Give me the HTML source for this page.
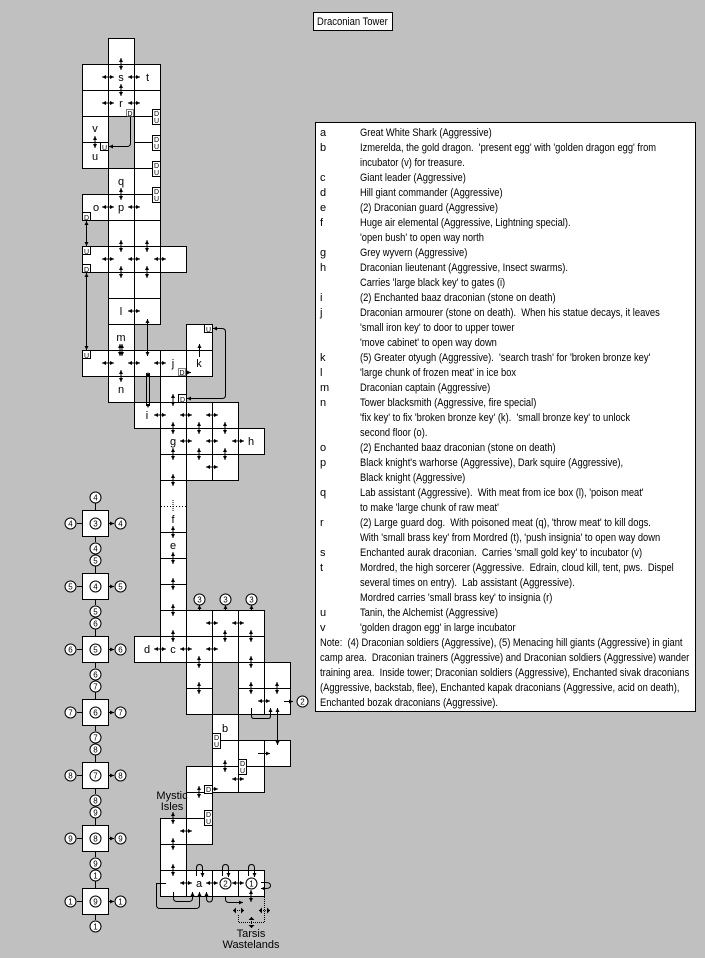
<!DOCTYPE html>
<html><head><meta charset="utf-8"><style>
html,body{margin:0;padding:0;background:#c0c0c0;}
svg{display:block;}
text{font-family:"Liberation Sans",sans-serif;}
</style></head><body>
<svg width="705" height="958" viewBox="0 0 705 958" xmlns="http://www.w3.org/2000/svg">
<defs>
<marker id="a" viewBox="0 0 6 6" refX="6" refY="3" markerWidth="4" markerHeight="4" markerUnits="userSpaceOnUse" orient="auto-start-reverse"><path d="M0,0 L6,3 L0,6z" fill="#000"/></marker>
<g id="h"><line x1="-6" y1="0" x2="6" y2="0" stroke="#000" marker-start="url(#a)" marker-end="url(#a)"/></g>
<g id="v"><line x1="0" y1="-6" x2="0" y2="6" stroke="#000" marker-start="url(#a)" marker-end="url(#a)"/></g>
</defs>
<rect width="705" height="958" fill="#c0c0c0"/>

<rect x="313.5" y="12.5" width="79" height="18" fill="#fff" stroke="#000"/>
<text x="317" y="25" font-size="11" transform="translate(317,0) scale(0.86,1) translate(-317,0)">Draconian Tower</text>

<g fill="#fff" stroke="#000">
<rect x="108.5" y="38.5" width="26" height="26"/>
<rect x="82.5" y="64.5" width="26" height="26"/><rect x="108.5" y="64.5" width="26" height="26"/><rect x="134.5" y="64.5" width="26" height="26"/>
<rect x="82.5" y="90.5" width="26" height="26"/><rect x="108.5" y="90.5" width="26" height="26"/><rect x="134.5" y="90.5" width="26" height="26"/>
<rect x="82.5" y="116.5" width="26" height="26"/><rect x="134.5" y="116.5" width="26" height="26"/>
<rect x="82.5" y="142.5" width="26" height="26"/><rect x="134.5" y="142.5" width="26" height="26"/>
<rect x="108.5" y="168.5" width="26" height="26"/><rect x="134.5" y="168.5" width="26" height="26"/>
<rect x="82.5" y="194.5" width="26" height="26"/><rect x="108.5" y="194.5" width="26" height="26"/><rect x="134.5" y="194.5" width="26" height="26"/>
<rect x="108.5" y="220.5" width="26" height="26"/><rect x="134.5" y="220.5" width="26" height="26"/>
<rect x="82.5" y="246.5" width="26" height="26"/><rect x="108.5" y="246.5" width="26" height="26"/><rect x="134.5" y="246.5" width="26" height="26"/><rect x="160.5" y="246.5" width="26" height="26"/>
<rect x="108.5" y="272.5" width="26" height="26"/><rect x="134.5" y="272.5" width="26" height="26"/>
<rect x="108.5" y="298.5" width="26" height="26"/><rect x="134.5" y="298.5" width="26" height="26"/>
<rect x="108.5" y="324.5" width="26" height="26"/><rect x="186.5" y="324.5" width="26" height="26"/>
<rect x="82.5" y="350.5" width="26" height="26"/><rect x="108.5" y="350.5" width="26" height="26"/><rect x="134.5" y="350.5" width="26" height="26"/><rect x="160.5" y="350.5" width="26" height="26"/><rect x="186.5" y="350.5" width="26" height="26"/>
<rect x="108.5" y="376.5" width="26" height="26"/><rect x="160.5" y="376.5" width="26" height="26"/>
<rect x="134.5" y="402.5" width="26" height="26"/><rect x="160.5" y="402.5" width="26" height="26"/><rect x="186.5" y="402.5" width="26" height="26"/><rect x="212.5" y="402.5" width="26" height="26"/>
<rect x="160.5" y="428.5" width="26" height="26"/><rect x="186.5" y="428.5" width="26" height="26"/><rect x="212.5" y="428.5" width="26" height="26"/><rect x="238.5" y="428.5" width="26" height="26"/>
<rect x="160.5" y="454.5" width="26" height="26"/><rect x="186.5" y="454.5" width="26" height="26"/><rect x="212.5" y="454.5" width="26" height="26"/>
<rect x="160.5" y="480.5" width="26" height="26"/>
<rect x="160.5" y="506.5" width="26" height="26"/>
<rect x="160.5" y="532.5" width="26" height="26"/>
<rect x="160.5" y="558.5" width="26" height="26"/>
<rect x="160.5" y="584.5" width="26" height="26"/>
<rect x="160.5" y="610.5" width="26" height="26"/><rect x="186.5" y="610.5" width="26" height="26"/><rect x="212.5" y="610.5" width="26" height="26"/><rect x="238.5" y="610.5" width="26" height="26"/>
<rect x="134.5" y="636.5" width="26" height="26"/><rect x="160.5" y="636.5" width="26" height="26"/><rect x="186.5" y="636.5" width="26" height="26"/><rect x="212.5" y="636.5" width="26" height="26"/><rect x="238.5" y="636.5" width="26" height="26"/>
<rect x="186.5" y="662.5" width="26" height="26"/><rect x="238.5" y="662.5" width="26" height="26"/><rect x="264.5" y="662.5" width="26" height="26"/>
<rect x="186.5" y="688.5" width="26" height="26"/><rect x="238.5" y="688.5" width="26" height="26"/><rect x="264.5" y="688.5" width="26" height="26"/>
<rect x="212.5" y="714.5" width="26" height="26"/>
<rect x="212.5" y="740.5" width="26" height="26"/><rect x="238.5" y="740.5" width="26" height="26"/><rect x="264.5" y="740.5" width="26" height="26"/>
<rect x="186.5" y="766.5" width="26" height="26"/><rect x="212.5" y="766.5" width="26" height="26"/><rect x="238.5" y="766.5" width="26" height="26"/>
<rect x="186.5" y="792.5" width="26" height="26"/>
<rect x="160.5" y="818.5" width="26" height="26"/><rect x="186.5" y="818.5" width="26" height="26"/>
<rect x="160.5" y="844.5" width="26" height="26"/>
<rect x="160.5" y="870.5" width="26" height="26"/><rect x="186.5" y="870.5" width="26" height="26"/><rect x="212.5" y="870.5" width="26" height="26"/><rect x="238.5" y="870.5" width="26" height="26"/>
</g>
<line x1="161" y1="506.5" x2="186" y2="506.5" stroke="#fff"/>
<line x1="161" y1="506.5" x2="186" y2="506.5" stroke="#000" stroke-dasharray="1,2"/>

<g>
<use href="#h" x="108" y="77"/><use href="#h" x="134" y="77"/>
<use href="#h" x="108" y="103"/><use href="#h" x="134" y="103"/>
<use href="#h" x="108" y="207"/><use href="#h" x="134" y="207"/>
<use href="#h" x="108" y="259"/><use href="#h" x="134" y="259"/><use href="#h" x="160" y="259"/>
<use href="#h" x="134" y="311"/>
<use href="#h" x="108" y="363"/><use href="#h" x="134" y="363"/><use href="#h" x="160" y="363"/>
<use href="#h" x="160" y="415"/><use href="#h" x="186" y="415"/><use href="#h" x="212" y="415"/>
<use href="#h" x="186" y="441"/><use href="#h" x="212" y="441"/><use href="#h" x="238" y="441"/>
<use href="#h" x="212" y="467"/>
<use href="#h" x="212" y="623"/><use href="#h" x="238" y="623"/>
<use href="#h" x="160" y="649"/><use href="#h" x="186" y="649"/><use href="#h" x="212" y="649"/>
<use href="#h" x="264" y="701"/>
<use href="#h" x="238" y="779"/>
<use href="#h" x="186" y="831"/>
<use href="#h" x="186" y="883"/><use href="#h" x="212" y="883"/><use href="#h" x="238" y="883"/>
</g>
<g>
<use href="#v" x="121" y="64"/><use href="#v" x="121" y="90"/><use href="#v" x="95" y="142"/>
<use href="#v" x="121" y="194"/><use href="#v" x="121" y="246"/><use href="#v" x="147" y="246"/>
<use href="#v" x="121" y="272"/><use href="#v" x="147" y="272"/>
<use href="#v" x="120" y="350"/><use href="#v" x="122" y="350"/>
<use href="#v" x="121" y="376"/><use href="#v" x="173" y="400"/>
<use href="#v" x="173" y="428"/><use href="#v" x="199" y="428"/><use href="#v" x="225" y="428"/>
<use href="#v" x="173" y="454"/><use href="#v" x="199" y="454"/><use href="#v" x="225" y="454"/>
<use href="#v" x="173" y="480"/><use href="#v" x="173" y="532"/><use href="#v" x="173" y="558"/><use href="#v" x="173" y="584"/>
<use href="#v" x="173" y="610"/><use href="#v" x="173" y="636"/><use href="#v" x="225" y="636"/><use href="#v" x="251" y="636"/>
<use href="#v" x="199" y="662"/><use href="#v" x="251" y="662"/>
<use href="#v" x="199" y="688"/><use href="#v" x="251" y="688"/><use href="#v" x="277" y="688"/>
<use href="#v" x="225" y="766"/><use href="#v" x="199" y="792"/>
<use href="#v" x="173" y="818"/><use href="#v" x="173" y="844"/><use href="#v" x="173" y="870"/>
<use href="#v" x="251" y="896"/>
</g>
<line x1="173" y1="500" x2="173" y2="512" stroke="#000" stroke-dasharray="1,1"/>

<g fill="#fff" stroke="#000" font-size="7">
<rect x="126.5" y="109.5" width="7" height="7" stroke-dasharray="1,1"/>
<rect x="100.5" y="142.5" width="8" height="8"/>
<rect x="152.5" y="109.5" width="8" height="15"/><rect x="152.5" y="135.5" width="8" height="15"/>
<rect x="152.5" y="161.5" width="8" height="15"/><rect x="152.5" y="187.5" width="8" height="15"/>
<rect x="82.5" y="212.5" width="8" height="8"/><rect x="82.5" y="246.5" width="8" height="8"/>
<rect x="82.5" y="264.5" width="8" height="8"/><rect x="82.5" y="350.5" width="8" height="8"/>
<rect x="204.5" y="324.5" width="8" height="8"/>
<rect x="178.5" y="368.5" width="7" height="7" stroke-dasharray="1,1"/>
<rect x="178.5" y="394.5" width="8" height="8"/>
<rect x="212.5" y="733.5" width="8" height="15"/>
<rect x="238.5" y="759.5" width="8" height="15"/>
<rect x="204.5" y="785.5" width="8" height="8"/>
<rect x="204.5" y="810.5" width="8" height="15"/>
</g>
<g font-size="7" text-anchor="middle">
<text x="130" y="116">D</text><text x="104.5" y="150">U</text>
<text x="156.5" y="116">D</text><text x="156.5" y="123">U</text>
<text x="156.5" y="142">D</text><text x="156.5" y="149">U</text>
<text x="156.5" y="168">D</text><text x="156.5" y="175">U</text>
<text x="156.5" y="194">D</text><text x="156.5" y="201">U</text>
<text x="86.5" y="220">D</text><text x="86.5" y="254">U</text>
<text x="86.5" y="272">D</text><text x="86.5" y="358">U</text>
<text x="208.5" y="332">U</text><text x="182" y="375">D</text><text x="182.5" y="402">D</text>
<text x="216.5" y="740">D</text><text x="216.5" y="747">U</text>
<text x="242.5" y="766">D</text><text x="242.5" y="773">U</text>
<text x="208.5" y="792">D</text>
<text x="208.5" y="817">D</text><text x="208.5" y="824">U</text>
</g>

<g fill="none" stroke="#000">
<path d="M130.5,117 V143 Q130.5,146.5 127,146.5 H109" marker-end="url(#a)"/>
<line x1="86.5" y1="221" x2="86.5" y2="246" marker-start="url(#a)" marker-end="url(#a)"/>
<line x1="86.5" y1="273" x2="86.5" y2="350" marker-start="url(#a)" marker-end="url(#a)"/>
<line x1="147.5" y1="319" x2="147.5" y2="356" marker-start="url(#a)" marker-end="url(#a)"/>
<line x1="146.5" y1="373" x2="146.5" y2="406"/><line x1="149.5" y1="373" x2="149.5" y2="406"/>
<line x1="148" y1="372" x2="148" y2="408" stroke="none" marker-start="url(#a)" marker-end="url(#a)"/>
<path d="M213,328.5 H222 Q225.5,328.5 225.5,332 V395 Q225.5,398.5 222,398.5 H187" marker-start="url(#a)" marker-end="url(#a)"/>
<line x1="199.5" y1="357" x2="199.5" y2="344" marker-end="url(#a)"/>
<line x1="186" y1="372.5" x2="191" y2="372.5" marker-end="url(#a)"/>
<line x1="199.5" y1="610" x2="199.5" y2="605" marker-end="url(#a)"/>
<line x1="225.5" y1="610" x2="225.5" y2="605" marker-end="url(#a)"/>
<line x1="251.5" y1="610" x2="251.5" y2="605" marker-end="url(#a)"/>
<line x1="284" y1="701.5" x2="293" y2="701.5" marker-end="url(#a)"/>
<path d="M251.5,708 V716 Q251.5,718.5 254,718.5 H268 Q270.5,718.5 270.5,716 V708" marker-end="url(#a)"/>
<line x1="277.5" y1="708" x2="277.5" y2="745" marker-start="url(#a)" marker-end="url(#a)"/>
<line x1="258" y1="753.5" x2="270" y2="753.5" marker-end="url(#a)"/>
<line x1="212" y1="789" x2="218" y2="789" marker-end="url(#a)"/>
<path d="M196.5,876 V868 Q196.5,864.5 199.5,864.5 Q202.5,864.5 202.5,868 V877" marker-end="url(#a)"/>
<path d="M222.5,876 V868 Q222.5,864.5 225.5,864.5 Q228.5,864.5 228.5,868 V877" marker-end="url(#a)"/>
<path d="M248.5,876 V868 Q248.5,864.5 251.5,864.5 Q254.5,864.5 254.5,868 V877" marker-end="url(#a)"/>
<path d="M261,882.5 H266 Q270.5,882.5 270.5,885.5 Q270.5,888.5 266,888.5 H261" marker-end="url(#a)"/>
<path d="M166,883.5 H156.5 V905 Q156.5,908.5 160,908.5 H196 Q199.5,908.5 199.5,905 V892" marker-end="url(#a)"/>
<path d="M173.5,892 V898 Q173.5,901.5 177,901.5 H189 Q192.5,901.5 192.5,898 V892" marker-end="url(#a)"/>
<path d="M206.5,898 Q206.5,902 209.5,902 Q212.5,902 212.5,898 V896 M206.5,898 V892" marker-end="url(#a)"/>
<path d="M225.5,896 V899 Q225.5,902.5 229,902.5 H243" marker-end="url(#a)"/>
</g>
<g fill="none" stroke="#000" stroke-dasharray="1,1">
<path d="M264.5,897 V922.5 H238.5 V914"/>
<line x1="233" y1="910.5" x2="244" y2="910.5"/>
<line x1="259" y1="910.5" x2="270" y2="910.5"/>
<line x1="251.5" y1="917" x2="251.5" y2="928"/>
</g>
<g fill="#000"><path d="M233,910.5 l3,-3 v6z M244,910.5 l-3,-3 v6z M259,910.5 l3,-3 v6z M270,910.5 l-3,-3 v6z M251.5,917 l-3,3 h6z M251.5,928 l-3,-3 h6z"/></g>

<g fill="#fff" stroke="#000">
<circle cx="199.5" cy="599.5" r="5.5"/><circle cx="225.5" cy="599.5" r="5.5"/><circle cx="251.5" cy="599.5" r="5.5"/>
<circle cx="302.5" cy="701.5" r="5.5"/>
<circle cx="225.5" cy="883.5" r="5.5"/><circle cx="251.5" cy="883.5" r="5.5"/>
</g>
<g font-size="8" text-anchor="middle">
<text x="199.5" y="602.5">3</text><text x="225.5" y="602.5">3</text><text x="251.5" y="602.5">3</text>
<text x="302.5" y="704.5">2</text><text x="225.5" y="886.5">2</text><text x="251.5" y="886.5">1</text>
</g>

<g font-size="11" text-anchor="middle">
<text x="121" y="81">s</text><text x="147.5" y="81">t</text><text x="121" y="107">r</text>
<text x="95" y="132">v</text><text x="95" y="160">u</text><text x="121" y="185">q</text>
<text x="96" y="211">o</text><text x="121" y="211">p</text><text x="121" y="315">l</text>
<text x="121" y="341">m</text><text x="173" y="367">j</text><text x="199" y="367">k</text>
<text x="121" y="393">n</text><text x="147" y="419">i</text><text x="173" y="445">g</text>
<text x="251" y="445">h</text><text x="173" y="523">f</text><text x="173" y="549">e</text>
<text x="147" y="653">d</text><text x="173" y="653">c</text><text x="225" y="732">b</text>
<text x="199" y="887">a</text>
<text x="172" y="799">Mystic</text><text x="172" y="810">Isles</text>
<text x="251" y="937">Tarsis</text><text x="251" y="948">Wastelands</text>
</g>

<g fill="#fff" stroke="#000">
<rect x="82.5" y="510.5" width="26" height="26"/><rect x="82.5" y="573.5" width="26" height="26"/>
<rect x="82.5" y="636.5" width="26" height="26"/><rect x="82.5" y="699.5" width="26" height="26"/>
<rect x="82.5" y="762.5" width="26" height="26"/><rect x="82.5" y="825.5" width="26" height="26"/>
<rect x="82.5" y="888.5" width="26" height="26"/>
</g>
<g fill="none" stroke="#000">
<path d="M95.5,510 V503 M95.5,536 V542 M82,523.5 H77 M108,523.5 H114" marker-end="url(#a)"/>
<path d="M95.5,573 V566 M95.5,599 V605 M82,586.5 H77 M108,586.5 H114" marker-end="url(#a)"/>
<path d="M95.5,636 V629 M95.5,662 V668 M82,649.5 H77 M108,649.5 H114" marker-end="url(#a)"/>
<path d="M95.5,699 V692 M95.5,725 V731 M82,712.5 H77 M108,712.5 H114" marker-end="url(#a)"/>
<path d="M95.5,762 V755 M95.5,788 V794 M82,775.5 H77 M108,775.5 H114" marker-end="url(#a)"/>
<path d="M95.5,825 V818 M95.5,851 V857 M82,838.5 H77 M108,838.5 H114" marker-end="url(#a)"/>
<path d="M95.5,888 V881 M95.5,914 V920 M82,901.5 H77 M108,901.5 H114" marker-end="url(#a)"/>
</g>
<g fill="#fff" stroke="#000">
<circle cx="95.5" cy="523.5" r="5.5"/><circle cx="95.5" cy="497.5" r="5.5"/><circle cx="95.5" cy="548.5" r="5.5"/><circle cx="70.5" cy="523.5" r="5.5"/><circle cx="120.5" cy="523.5" r="5.5"/>
<circle cx="95.5" cy="586.5" r="5.5"/><circle cx="95.5" cy="560.5" r="5.5"/><circle cx="95.5" cy="611.5" r="5.5"/><circle cx="70.5" cy="586.5" r="5.5"/><circle cx="120.5" cy="586.5" r="5.5"/>
<circle cx="95.5" cy="649.5" r="5.5"/><circle cx="95.5" cy="623.5" r="5.5"/><circle cx="95.5" cy="674.5" r="5.5"/><circle cx="70.5" cy="649.5" r="5.5"/><circle cx="120.5" cy="649.5" r="5.5"/>
<circle cx="95.5" cy="712.5" r="5.5"/><circle cx="95.5" cy="686.5" r="5.5"/><circle cx="95.5" cy="737.5" r="5.5"/><circle cx="70.5" cy="712.5" r="5.5"/><circle cx="120.5" cy="712.5" r="5.5"/>
<circle cx="95.5" cy="775.5" r="5.5"/><circle cx="95.5" cy="749.5" r="5.5"/><circle cx="95.5" cy="800.5" r="5.5"/><circle cx="70.5" cy="775.5" r="5.5"/><circle cx="120.5" cy="775.5" r="5.5"/>
<circle cx="95.5" cy="838.5" r="5.5"/><circle cx="95.5" cy="812.5" r="5.5"/><circle cx="95.5" cy="863.5" r="5.5"/><circle cx="70.5" cy="838.5" r="5.5"/><circle cx="120.5" cy="838.5" r="5.5"/>
<circle cx="95.5" cy="901.5" r="5.5"/><circle cx="95.5" cy="875.5" r="5.5"/><circle cx="95.5" cy="926.5" r="5.5"/><circle cx="70.5" cy="901.5" r="5.5"/><circle cx="120.5" cy="901.5" r="5.5"/>
</g>
<g font-size="8" text-anchor="middle">
<text x="95.5" y="526.5">3</text><text x="95.5" y="500.5">4</text><text x="95.5" y="551.5">4</text><text x="70.5" y="526.5">4</text><text x="120.5" y="526.5">4</text>
<text x="95.5" y="589.5">4</text><text x="95.5" y="563.5">5</text><text x="95.5" y="614.5">5</text><text x="70.5" y="589.5">5</text><text x="120.5" y="589.5">5</text>
<text x="95.5" y="652.5">5</text><text x="95.5" y="626.5">6</text><text x="95.5" y="677.5">6</text><text x="70.5" y="652.5">6</text><text x="120.5" y="652.5">6</text>
<text x="95.5" y="715.5">6</text><text x="95.5" y="689.5">7</text><text x="95.5" y="740.5">7</text><text x="70.5" y="715.5">7</text><text x="120.5" y="715.5">7</text>
<text x="95.5" y="778.5">7</text><text x="95.5" y="752.5">8</text><text x="95.5" y="803.5">8</text><text x="70.5" y="778.5">8</text><text x="120.5" y="778.5">8</text>
<text x="95.5" y="841.5">8</text><text x="95.5" y="815.5">9</text><text x="95.5" y="866.5">9</text><text x="70.5" y="841.5">9</text><text x="120.5" y="841.5">9</text>
<text x="95.5" y="904.5">9</text><text x="95.5" y="878.5">1</text><text x="95.5" y="929.5">1</text><text x="70.5" y="904.5">1</text><text x="120.5" y="904.5">1</text>
</g>

<rect x="315.5" y="122.5" width="380" height="589" fill="#fff" stroke="#000"/>
<g font-size="11">
<g>
<text x="320" y="136">a</text><text x="320" y="151">b</text><text x="320" y="181">c</text><text x="320" y="196">d</text>
<text x="320" y="211">e</text><text x="320" y="226">f</text><text x="320" y="256">g</text><text x="320" y="271">h</text>
<text x="320" y="301">i</text><text x="320" y="316">j</text><text x="320" y="361">k</text><text x="320" y="376">l</text>
<text x="320" y="391">m</text><text x="320" y="406">n</text><text x="320" y="451">o</text><text x="320" y="466">p</text>
<text x="320" y="496">q</text><text x="320" y="526">r</text><text x="320" y="556">s</text><text x="320" y="571">t</text>
<text x="320" y="616">u</text><text x="320" y="631">v</text>
</g>
<g transform="translate(360,0) scale(0.85,1)">
<text x="0" y="136">Great White Shark (Aggressive)</text>
<text x="0" y="151" xml:space="preserve">Izmerelda, the gold dragon.  'present egg' with 'golden dragon egg' from</text>
<text x="0" y="166">incubator (v) for treasure.</text>
<text x="0" y="181">Giant leader (Aggressive)</text>
<text x="0" y="196">Hill giant commander (Aggressive)</text>
<text x="0" y="211">(2) Draconian guard (Aggressive)</text>
<text x="0" y="226">Huge air elemental (Aggressive, Lightning special).</text>
<text x="0" y="241">'open bush' to open way north</text>
<text x="0" y="256">Grey wyvern (Aggressive)</text>
<text x="0" y="271">Draconian lieutenant (Aggressive, Insect swarms).</text>
<text x="0" y="286">Carries 'large black key' to gates (i)</text>
<text x="0" y="301">(2) Enchanted baaz draconian (stone on death)</text>
<text x="0" y="316" xml:space="preserve">Draconian armourer (stone on death).  When his statue decays, it leaves</text>
<text x="0" y="331">'small iron key' to door to upper tower</text>
<text x="0" y="346">'move cabinet' to open way down</text>
<text x="0" y="361" xml:space="preserve">(5) Greater otyugh (Aggressive).  'search trash' for 'broken bronze key'</text>
<text x="0" y="376">'large chunk of frozen meat' in ice box</text>
<text x="0" y="391">Draconian captain (Aggressive)</text>
<text x="0" y="406">Tower blacksmith (Aggressive, fire special)</text>
<text x="0" y="421" xml:space="preserve">'fix key' to fix 'broken bronze key' (k).  'small bronze key' to unlock</text>
<text x="0" y="436">second floor (o).</text>
<text x="0" y="451">(2) Enchanted baaz draconian (stone on death)</text>
<text x="0" y="466">Black knight's warhorse (Aggressive), Dark squire (Aggressive),</text>
<text x="0" y="481">Black knight (Aggressive)</text>
<text x="0" y="496" xml:space="preserve">Lab assistant (Aggressive).  With meat from ice box (l), 'poison meat'</text>
<text x="0" y="511">to make 'large chunk of raw meat'</text>
<text x="0" y="526" xml:space="preserve">(2) Large guard dog.  With poisoned meat (q), 'throw meat' to kill dogs.</text>
<text x="0" y="541">With 'small brass key' from Mordred (t), 'push insignia' to open way down</text>
<text x="0" y="556" xml:space="preserve">Enchanted aurak draconian.  Carries 'small gold key' to incubator (v)</text>
<text x="0" y="571" xml:space="preserve">Mordred, the high sorcerer (Aggressive.  Edrain, cloud kill, tent, pws.  Dispel</text>
<text x="0" y="586" xml:space="preserve">several times on entry).  Lab assistant (Aggressive).</text>
<text x="0" y="601">Mordred carries 'small brass key' to insignia (r)</text>
<text x="0" y="616">Tanin, the Alchemist (Aggressive)</text>
<text x="0" y="631">'golden dragon egg' in large incubator</text>
</g>
<g transform="translate(320,0) scale(0.85,1)">
<text x="0" y="646" xml:space="preserve">Note:  (4) Draconian soldiers (Aggressive), (5) Menacing hill giants (Aggressive) in giant</text>
<text x="0" y="661" xml:space="preserve">camp area.  Draconian trainers (Aggressive) and Draconian soldiers (Aggressive) wander</text>
<text x="0" y="676" xml:space="preserve">training area.  Inside tower; Draconian soldiers (Aggressive), Enchanted sivak draconians</text>
<text x="0" y="691">(Aggressive, backstab, flee), Enchanted kapak draconians (Aggressive, acid on death),</text>
<text x="0" y="706">Enchanted bozak draconians (Aggressive).</text>
</g>
</g>
</svg>
</body></html>
